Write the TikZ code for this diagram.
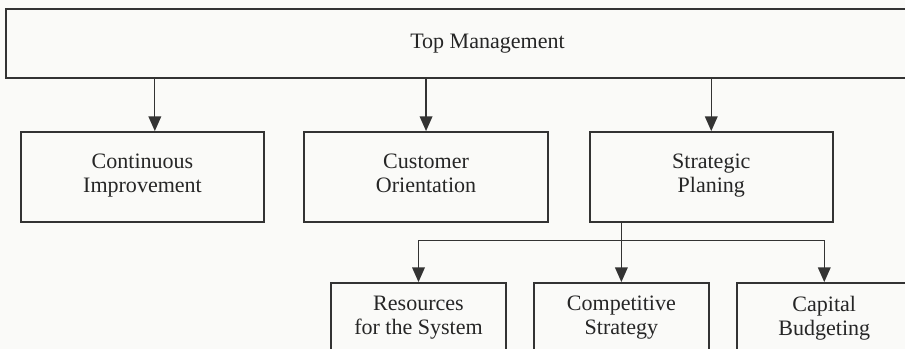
\documentclass[tikz,border=0pt]{standalone}
\usepackage{fontspec}
\setmainfont{Liberation Serif}
\usetikzlibrary{arrows.meta,positioning}

\begin{document}
\begin{tikzpicture}[x=0.03cm,y=-0.03cm,box/.style={rectangle,draw=black!80,line width=1.6pt,align=center,inner sep=0pt,font=\fontsize{18.8}{20.5}\selectfont,text=black!85,execute at begin node=\strut,execute at end node=\strut},arrow/.style={-{Triangle[length=4.4mm,width=3.8mm]},line width=1.1pt,draw=black!80},line/.style={line width=1.1pt,draw=black!80}]
\path[use as bounding box,fill={rgb,255:red,250;green,250;blue,248}] (0,0) rectangle (905,349);
\node[box,minimum width=28.89cm,minimum height=2.07cm] (top) at (487.5,43.5) {Top Management};
\node[box,minimum width=7.3cm,minimum height=2.7cm] (cont) at (142.5,177) {Continuous\\Improvement};
\node[box,minimum width=7.3cm,minimum height=2.7cm,right=1.15cm of cont] (cust) {Customer\\Orientation};
\node[box,minimum width=7.3cm,minimum height=2.7cm,right=1.2cm of cust] (strat) {Strategic\\Planing};
\node[box,minimum width=5.25cm,minimum height=2.16cm] (res) at (418.5,319) {Resources\\for the System};
\node[box,minimum width=5.25cm,minimum height=2.16cm,right=0.78cm of res] (comp) {Competitive\\Strategy};
\node[box,minimum width=5.25cm,minimum height=2.16cm,right=0.78cm of comp] (cap) {Capital\\Budgeting};
\coordinate[right=0.37cm of cont.north] (cont in);
\coordinate[above=1.25cm of comp.north] (split);
\draw[arrow] (top.south -| cont in)--(cont in); \draw[arrow] (top.south -| cust.north)--(cust.north); \draw[arrow] (top.south -| strat.north)--(strat.north);
\draw[line] (strat.south -| split)--(split);
\draw[arrow] (split)-|(res.north); \draw[arrow] (split)--(comp.north); \draw[arrow] (split)-|(cap.north);
\end{tikzpicture}
\end{document}
